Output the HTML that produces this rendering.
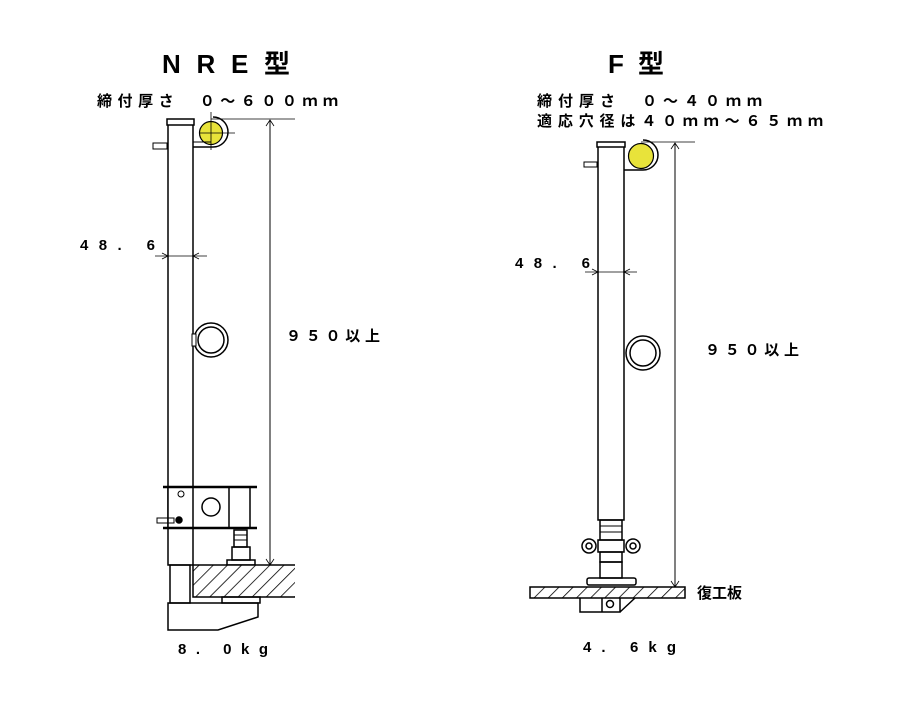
<!DOCTYPE html>
<html><head><meta charset="utf-8"><style>
body{margin:0;background:#fff;}
svg{display:block}
text{font-family:"Liberation Sans","Noto Sans CJK JP",sans-serif;fill:#000;font-weight:bold}
</style></head><body>
<svg width="899" height="714" viewBox="0 0 899 714" xmlns="http://www.w3.org/2000/svg">
<defs>
<pattern id="h" width="10" height="10" patternUnits="userSpaceOnUse" patternTransform="rotate(45)">
<rect width="10" height="10" fill="#fff"/><line x1="0" y1="0" x2="0" y2="10" stroke="#000" stroke-width="1.6"/>
</pattern>
</defs>
<g stroke="#000" stroke-width="1.5" fill="none">
<!-- LEFT -->
<rect x="168" y="122" width="25" height="443" fill="#fff"/>
<rect x="167" y="119" width="27" height="6" fill="#fff"/>
<circle cx="211" cy="133" r="11.5" fill="#e8e33a" stroke-width="1.2"/>
<path d="M193 147 H213 A15 15 0 0 0 213 117" />
<path d="M193 142 H211" stroke-width="1"/>
<line x1="200" y1="133" x2="235" y2="133" stroke-width="0.8"/>
<line x1="211" y1="112" x2="211" y2="150" stroke-width="0.8"/>
<line x1="211" y1="119" x2="295" y2="119" stroke-width="0.8"/>
<line x1="270" y1="120" x2="270" y2="565" stroke-width="1"/>
<path d="M266 126 L270 120 L274 126 M266 559 L270 565 L274 559" stroke-width="0.8"/>
<rect x="153" y="143" width="14" height="6" stroke-width="1"/>
<line x1="155" y1="256" x2="207" y2="256" stroke-width="0.8"/>
<path d="M162 253 L168 256 L162 259 M199 253 L193 256 L199 259" stroke-width="0.8"/>
<circle cx="211" cy="340" r="17" stroke-width="1.5"/>
<circle cx="211" cy="340" r="13"/>
<rect x="192" y="334" width="4" height="12" fill="#fff" stroke-width="1"/>
<rect x="168" y="487" width="82" height="41" fill="#fff"/>
<line x1="193" y1="487" x2="193" y2="528"/>
<line x1="229" y1="487" x2="229" y2="528"/>
<line x1="163" y1="487" x2="257" y2="487" stroke-width="2.5"/>
<line x1="163" y1="528" x2="257" y2="528" stroke-width="2.5"/>
<circle cx="211" cy="507" r="9"/>
<circle cx="181" cy="494" r="3" stroke-width="1"/>
<rect x="157" y="518" width="17" height="5" stroke-width="1"/>
<circle cx="179" cy="520" r="3" fill="#000"/>
<rect x="234" y="530" width="13" height="17"/>
<line x1="234" y1="535" x2="247" y2="535" stroke-width="1"/>
<line x1="234" y1="540" x2="247" y2="540" stroke-width="1"/>
<rect x="232" y="547" width="18" height="13"/>
<rect x="227" y="560" width="28" height="5"/>
<rect x="193" y="565" width="102" height="32" fill="url(#h)" stroke="none"/>
<path d="M295 565 H193 V597 H295"/>
<rect x="170" y="565" width="20" height="38"/>
<rect x="222" y="597" width="38" height="6"/>
<path d="M168 603 H258 V617 L218 630 H168 Z"/>
<!-- RIGHT -->
<rect x="598" y="145" width="26" height="375" fill="#fff"/>
<rect x="597" y="142" width="28" height="5" fill="#fff"/>
<circle cx="641" cy="156" r="12.5" fill="#e8e33a" stroke-width="1.2"/>
<path d="M624 170 H643 A15 15 0 0 0 643 140"/>
<line x1="641" y1="142" x2="695" y2="142" stroke-width="0.8"/>
<line x1="675" y1="143" x2="675" y2="587" stroke-width="1"/>
<path d="M671 149 L675 143 L679 149 M671 581 L675 587 L679 581" stroke-width="0.8"/>
<rect x="584" y="162" width="13" height="5" stroke-width="1"/>
<line x1="585" y1="272" x2="637" y2="272" stroke-width="0.8"/>
<path d="M592 269 L598 272 L592 275 M630 269 L624 272 L630 275" stroke-width="0.8"/>
<circle cx="643" cy="353" r="17"/>
<circle cx="643" cy="353" r="13"/>
<rect x="600" y="520" width="22" height="20"/>
<line x1="600" y1="526" x2="622" y2="526" stroke-width="1"/><line x1="600" y1="532" x2="622" y2="532" stroke-width="1"/>
<rect x="598" y="540" width="26" height="12"/>
<circle cx="589" cy="546" r="7"/><circle cx="589" cy="546" r="3"/>
<circle cx="633" cy="546" r="7"/><circle cx="633" cy="546" r="3"/>
<rect x="600" y="552" width="22" height="10"/>
<rect x="600" y="562" width="22" height="16"/>
<rect x="587" y="578" width="49" height="7" rx="2"/>
<rect x="530" y="587" width="155" height="11" fill="url(#h)"/>
<path d="M580 598 V612 H620 V598 M602 598 V612 M620 612 L635 598"/>
<circle cx="610" cy="604" r="3.5"/>
</g>
<text x="162" y="73" font-size="26" textLength="128" lengthAdjust="spacing">NRE型</text>
<text x="97" y="106" font-size="15" textLength="241" lengthAdjust="spacing">締付厚さ　０～６００ｍｍ</text>
<text x="80" y="250" font-size="15" textLength="75" lengthAdjust="spacing">48. 6</text>
<text x="286" y="341" font-size="15" textLength="94" lengthAdjust="spacing">９５０以上</text>
<text x="178" y="654" font-size="15" textLength="90" lengthAdjust="spacing">8. 0kg</text>
<text x="608" y="73" font-size="26" textLength="56" lengthAdjust="spacing">F型</text>
<text x="537" y="106" font-size="15" textLength="225" lengthAdjust="spacing">締付厚さ　０～４０ｍｍ</text>
<text x="537" y="126" font-size="15" textLength="286" lengthAdjust="spacing">適応穴径は４０ｍｍ～６５ｍｍ</text>
<text x="515" y="268" font-size="15" textLength="75" lengthAdjust="spacing">48. 6</text>
<text x="705" y="355" font-size="15" textLength="94" lengthAdjust="spacing">９５０以上</text>
<text x="697" y="598" font-size="15">復工板</text>
<text x="583" y="652" font-size="15" textLength="93" lengthAdjust="spacing">4. 6kg</text>
</svg>
</body></html>
